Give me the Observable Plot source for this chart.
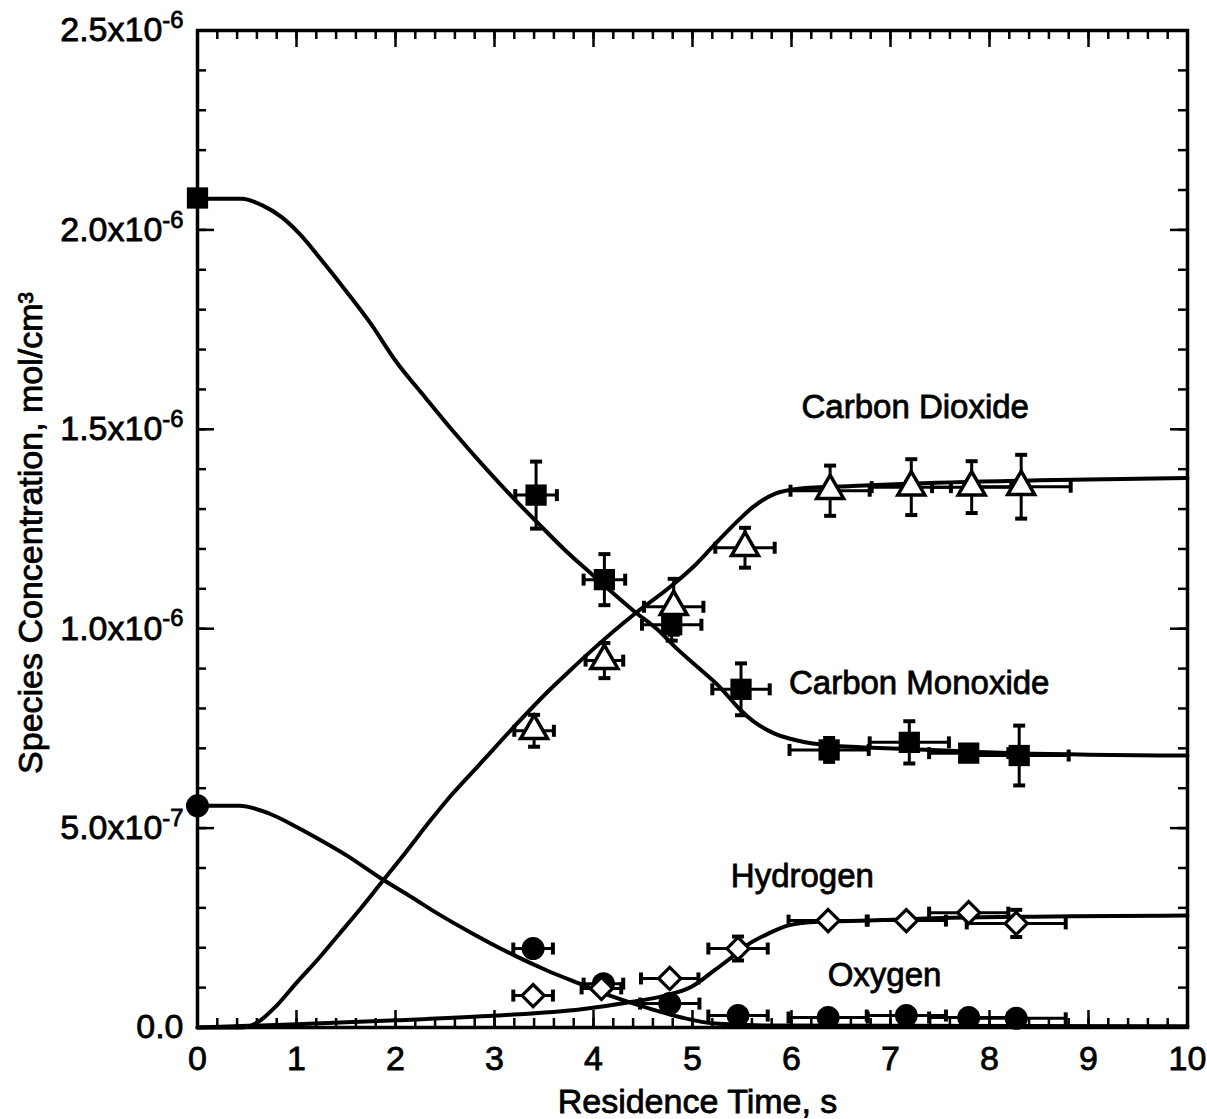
<!DOCTYPE html>
<html>
<head>
<meta charset="utf-8">
<script src="https://cdn.jsdelivr.net/npm/d3@7"></script>
<script src="https://cdn.jsdelivr.net/npm/@observablehq/plot@0.6"></script>
<style>
  body { margin: 0; background: #fff; }
  #chart svg { display: block; }
  #chart svg text { stroke: #000; stroke-width: 0.8px; }
</style>
</head>
<body>
<div id="chart"></div>
<script>
// Concentrations are listed in units of 1e-6 mol/cm3.
const UNIT = 1e-6;

// Model predictions: [residence time (s), concentration]
const coModel = [[0, 2.078], [0.45, 2.078], [0.65, 2.062], [0.85, 2.032], [1.05, 1.985], [1.25, 1.925],
  [1.5, 1.847], [1.75, 1.765], [2.0, 1.672], [2.3, 1.580], [2.6, 1.490], [2.9, 1.405], [3.2, 1.325],
  [3.45, 1.262], [3.7, 1.200], [4.0, 1.133], [4.43, 1.040], [4.66, 0.995], [4.82, 0.955], [5.06, 0.902],
  [5.29, 0.850], [5.47, 0.800], [5.63, 0.765], [5.83, 0.737], [6.07, 0.719], [6.40, 0.707], [7.11, 0.699],
  [8.12, 0.689], [10, 0.682]];
const co2Model = [[0, 0], [0.45, 0], [0.6, 0.012], [0.8, 0.055], [1.0, 0.112], [1.23, 0.175], [1.43, 0.234],
  [1.64, 0.296], [1.86, 0.364], [2.08, 0.432], [2.34, 0.515], [2.52, 0.570], [2.69, 0.617], [2.85, 0.660],
  [3.19, 0.752], [3.53, 0.840], [3.75, 0.892], [3.98, 0.945], [4.43, 1.040], [4.76, 1.102], [5.02, 1.158],
  [5.22, 1.210], [5.46, 1.271], [5.60, 1.303], [5.83, 1.338], [6.07, 1.351], [6.61, 1.358], [7.11, 1.363],
  [8.5, 1.372], [10, 1.378]];
const o2Model = [[0, 0.556], [0.42, 0.556], [0.73, 0.536], [1.00, 0.503], [1.20, 0.476], [1.51, 0.431],
  [1.84, 0.376], [2.18, 0.324], [2.41, 0.288], [2.79, 0.234], [3.19, 0.182], [3.53, 0.143], [3.86, 0.110],
  [4.21, 0.076], [4.56, 0.048], [4.89, 0.025], [5.22, 0.010], [5.8, 0.005], [10, 0.003]];
const h2Model = [[0, 0], [1.0, 0.008], [2.01, 0.018], [3.02, 0.030], [3.88, 0.046], [4.38, 0.064], [4.72, 0.080],
  [4.99, 0.102], [5.22, 0.143], [5.39, 0.175], [5.56, 0.208], [5.77, 0.236], [5.97, 0.256],
  [6.27, 0.265], [6.78, 0.268], [7.62, 0.275], [10, 0.281]];

// Measurements: [residence time (s), concentration, time error, concentration error]
const coData = [[0, 2.08, 0, 0], [3.42, 1.335, 0.21, 0.084], [4.11, 1.123, 0.21, 0.064], [4.79, 1.010, 0.30, 0.04],
  [5.49, 0.848, 0.29, 0.065], [6.38, 0.696, 0.40, 0.03], [7.19, 0.715, 0.40, 0.053], [7.79, 0.688, 0.40, 0],
  [8.30, 0.682, 0.50, 0.075]];
const co2Data = [[3.40, 0.744, 0.20, 0.04], [4.11, 0.920, 0.19, 0.044], [4.81, 1.055, 0.30, 0.07],
  [5.53, 1.203, 0.30, 0.05], [6.39, 1.346, 0.40, 0.063], [7.21, 1.355, 0.40, 0.07], [7.82, 1.355, 0.40, 0.065],
  [8.32, 1.356, 0.50, 0.08]];
const h2Data = [[3.39, 0.080, 0.20, 0], [4.08, 0.098, 0.20, 0], [4.77, 0.123, 0.29, 0], [5.46, 0.198, 0.30, 0.03],
  [6.37, 0.268, 0.40, 0], [7.16, 0.268, 0.40, 0], [7.79, 0.288, 0.40, 0], [8.27, 0.261, 0.50, 0.034]];
const o2Data = [[0, 0.556, 0, 0], [3.39, 0.198, 0.20, 0], [4.10, 0.110, 0.20, 0], [4.77, 0.060, 0.30, 0],
  [5.46, 0.030, 0.30, 0], [6.37, 0.025, 0.40, 0], [7.16, 0.030, 0.40, 0], [7.79, 0.025, 0.40, 0],
  [8.27, 0.023, 0.50, 0]];

// Curve labels: [text, time, concentration]
const seriesLabels = [["Carbon Dioxide", 7.25, 1.556], ["Carbon Monoxide", 7.29, 0.862],
  ["Hydrogen", 6.11, 0.378], ["Oxygen", 6.94, 0.130]];

// Axes
const xMajor = [0, 1, 2, 3, 4, 5, 6, 7, 8, 9, 10];
const yMajor = [0, 0.5e-6, 1.0e-6, 1.5e-6, 2.0e-6, 2.5e-6];
const yTickLabels = ["0.0", "5.0x10^-7", "1.0x10^-6", "1.5x10^-6", "2.0x10^-6", "2.5x10^-6"];
const xTitle = "Residence Time, s";
const yTitle = "Species Concentration, mol/cm³";

const xMinor = d3.range(0, 10.001, 0.2);
const yMinor = d3.range(0, 25.5).map(i => i * 1e-7);

const W = 1207, H = 1119;
const M = {top: 30, right: 20, bottom: 92, left: 197};
const plotW = W - M.left - M.right, plotH = H - M.top - M.bottom;

const toRows = (arr, series) => arr.map(([t, c, dt = 0, dc = 0]) => ({series, t, c: c * UNIT, dt, dc: dc * UNIT}));
const modelRows = [
  ...toRows(coModel, "CO"), ...toRows(co2Model, "CO2"),
  ...toRows(o2Model, "O2"), ...toRows(h2Model, "H2")
];
const coRows = toRows(coData, "CO"), co2Rows = toRows(co2Data, "CO2");
const h2Rows = toRows(h2Data, "H2"), o2Rows = toRows(o2Data, "O2");
const allPts = [...coRows, ...co2Rows, ...h2Rows, ...o2Rows];
const vErr = allPts.filter(d => d.dc > 0);
const hErr = allPts.filter(d => d.dt > 0);

// Short bar symbols used as error-bar end caps
const hCap = {draw(ctx, size) { const r = Math.sqrt(size / Math.PI); ctx.moveTo(-r, 0); ctx.lineTo(r, 0); }};
const vCap = {draw(ctx, size) { const r = Math.sqrt(size / Math.PI); ctx.moveTo(0, -r); ctx.lineTo(0, r); }};

const ink = "#000";
const tickW = 2.5;
const tickFont = 34;
const titleFont = 34;

const chart = Plot.plot({
  width: W, height: H,
  marginTop: M.top, marginRight: M.right, marginBottom: M.bottom, marginLeft: M.left,
  style: {fontFamily: "'Liberation Sans', Arial, sans-serif", fontSize: "32px", background: "#fff", color: ink},
  x: {domain: [0, 10]},
  y: {domain: [0, 2.5e-6]},
  marks: [
    // inward ticks on all four sides
    Plot.tickX(xMinor, {x: d => d, insetTop: plotH - 9, stroke: ink, strokeWidth: tickW}),
    Plot.tickX(xMinor, {x: d => d, insetBottom: plotH - 9, stroke: ink, strokeWidth: tickW}),
    Plot.tickX(xMajor, {x: d => d, insetTop: plotH - 17, stroke: ink, strokeWidth: tickW}),
    Plot.tickX(xMajor, {x: d => d, insetBottom: plotH - 17, stroke: ink, strokeWidth: tickW}),
    Plot.tickY(yMinor, {y: d => d, insetRight: plotW - 9, stroke: ink, strokeWidth: tickW}),
    Plot.tickY(yMinor, {y: d => d, insetLeft: plotW - 9, stroke: ink, strokeWidth: tickW}),
    Plot.tickY(yMajor, {y: d => d, insetRight: plotW - 17, stroke: ink, strokeWidth: tickW}),
    Plot.tickY(yMajor, {y: d => d, insetLeft: plotW - 17, stroke: ink, strokeWidth: tickW}),
    Plot.frame({stroke: ink, strokeWidth: 3.5}),

    Plot.axisX({ticks: xMajor, tickSize: 0, tickPadding: 18, fontSize: tickFont, label: null, tickFormat: d => String(d)}),
    Plot.axisY({ticks: yMajor, tickSize: 0, tickPadding: 14, fontSize: tickFont, label: null,
      tickFormat: d => yTickLabels[yMajor.indexOf(d)]}),
    Plot.text([xTitle], {text: d => d, frameAnchor: "bottom", textAnchor: "middle", lineAnchor: "middle",
      dy: 75, dx: 5, fontSize: titleFont, fill: ink}),
    Plot.text([yTitle], {text: d => d, frameAnchor: "left", textAnchor: "middle", lineAnchor: "middle",
      rotate: -90, dx: -166, dy: 4, fontSize: titleFont, fill: ink}),

    // model curves
    Plot.line(modelRows, {x: "t", y: "c", z: "series", curve: "monotone-x", stroke: ink, strokeWidth: 4}),

    // error bars
    Plot.ruleX(vErr, {x: "t", y1: d => d.c - d.dc, y2: d => d.c + d.dc, stroke: ink, strokeWidth: 3}),
    Plot.ruleY(hErr, {y: "c", x1: d => d.t - d.dt, x2: d => d.t + d.dt, stroke: ink, strokeWidth: 3}),
    Plot.dot(vErr, {x: "t", y: d => d.c + d.dc, symbol: hCap, r: 6, fill: "none", stroke: ink, strokeWidth: 4}),
    Plot.dot(vErr, {x: "t", y: d => d.c - d.dc, symbol: hCap, r: 6, fill: "none", stroke: ink, strokeWidth: 4}),
    Plot.dot(hErr, {x: d => d.t + d.dt, y: "c", symbol: vCap, r: 6, fill: "none", stroke: ink, strokeWidth: 4}),
    Plot.dot(hErr, {x: d => d.t - d.dt, y: "c", symbol: vCap, r: 6, fill: "none", stroke: ink, strokeWidth: 4}),

    // measurements
    Plot.dot(o2Rows, {x: "t", y: "c", symbol: "circle", r: 11.5, fill: ink, stroke: "none"}),
    Plot.dot(coRows, {x: "t", y: "c", symbol: "square", r: 12, fill: ink, stroke: "none"}),
    Plot.dot(co2Rows, {x: "t", y: "c", symbol: "triangle", r: 10, fill: "#fff", stroke: ink, strokeWidth: 3.5}),
    Plot.dot(h2Rows, {x: "t", y: "c", symbol: "diamond2", r: 10, fill: "#fff", stroke: ink, strokeWidth: 3.2}),

    // curve labels
    Plot.text(seriesLabels, {x: d => d[1], y: d => d[2] * UNIT, text: d => d[0], fontSize: 33, fill: ink})
  ]
});

// exponents in the y tick labels
chart.querySelectorAll('[aria-label="y-axis tick label"] text').forEach(t => {
  const s = t.textContent;
  if (!s.includes("^")) return;
  const [base, exp] = s.split("^");
  t.textContent = base;
  const sup = document.createElementNS("http://www.w3.org/2000/svg", "tspan");
  sup.setAttribute("dy", "-0.55em");
  sup.setAttribute("font-size", "0.7em");
  sup.textContent = exp;
  t.appendChild(sup);
});

document.getElementById("chart").appendChild(chart);
</script>
</body>
</html>
